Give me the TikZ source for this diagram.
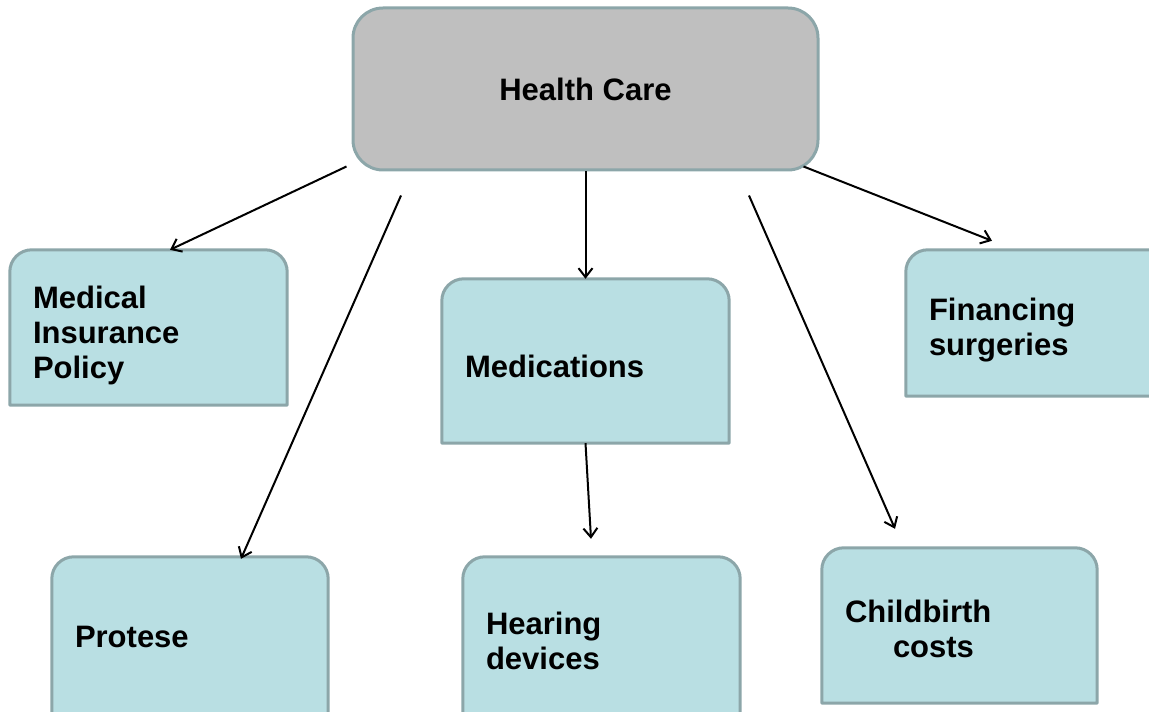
\documentclass[tikz,border=0pt]{standalone}
\usepackage{fontspec}
\setmainfont{Liberation Sans}
\usetikzlibrary{arrows.meta,backgrounds}
\definecolor{boxfill}{HTML}{B9DFE3}
\definecolor{boxline}{HTML}{8CA6A9}
\definecolor{rootfill}{HTML}{BFBFBF}
\tikzset{
  lbl/.style={font=\fontsize{31}{35}\selectfont\bfseries},
  leaf/.style={lbl, rectangle, draw=none, inner xsep=23pt, inner ysep=0pt, align=left},
  shapeline/.style={draw=boxline, line width=3pt, line join=round},
  conn/.style={line width=2pt, -{Straight Barb[length=9pt,width=14pt,line width=2pt]}}
}
\newcommand\topbox[1]{%
  \filldraw[shapeline, fill=boxfill] (#1.south west) -- ([yshift=-22pt]#1.north west)
    arc[start angle=180,end angle=90,radius=22pt] -- ([xshift=-22pt]#1.north east)
    arc[start angle=90,end angle=0,radius=22pt] -- (#1.south east) -- cycle;}
\newcommand\lift[1]{\rule{0pt}{#1pt}}
\begin{document}
\begin{tikzpicture}[x=1pt,y=1pt]
\useasboundingbox (0,0) rectangle (1149,712);
\clip (0,0) rectangle (1149,712);
% root
\node[lbl, rectangle, rounded corners=30pt, shapeline, fill=rootfill, minimum width=465pt, minimum height=162pt] (hc) at (585.5,623) {Health Care};
% leaves
\node[leaf, text width=231pt, minimum height=155pt] (mip) at (148.5,384.5) {\lift{38}Medical\\Insurance\\Policy};
\node[leaf, text width=241pt, minimum height=164pt] (med) at (585.5,351) {\lift{34}Medications};
\node[leaf, text width=231pt, minimum height=146pt] (fin) at (1044.5,389) {\lift{36}Financing\\surgeries};
\node[leaf, text width=230pt, minimum height=160pt] (pro) at (190,75) {Protese};
\node[leaf, text width=231pt, minimum height=160pt] (hear) at (601.5,75) {\lift{30}Hearing\\devices};
\node[leaf, text width=229pt, minimum height=155pt] (cb) at (959.5,86.5) {\lift{30}Childbirth\\\hspace*{48pt}costs};
\begin{scope}[on background layer]
  \topbox{mip}\topbox{med}\topbox{fin}\topbox{pro}\topbox{hear}\topbox{cb}
\end{scope}
% connectors
\draw[conn] ([xshift=-5pt,yshift=5pt]hc.south west) -- ([xshift=21.5pt]mip.north);
\draw[conn] ([xshift=-184.5pt,yshift=-24pt]hc.south) -- ([xshift=51pt,yshift=-2pt]pro.north);
\draw[conn] (hc.south) -- (med.north);
\draw[conn] (med.south) -- ([xshift=-10.5pt,yshift=18pt]hear.north);
\draw[conn] ([xshift=163.5pt,yshift=-24pt]hc.south) -- ([xshift=-64.5pt,yshift=19pt]cb.north);
\draw[conn] ([xshift=-16pt,yshift=5pt]hc.south east) -- ([xshift=-52.5pt,yshift=9pt]fin.north);
\end{tikzpicture}
\end{document}
